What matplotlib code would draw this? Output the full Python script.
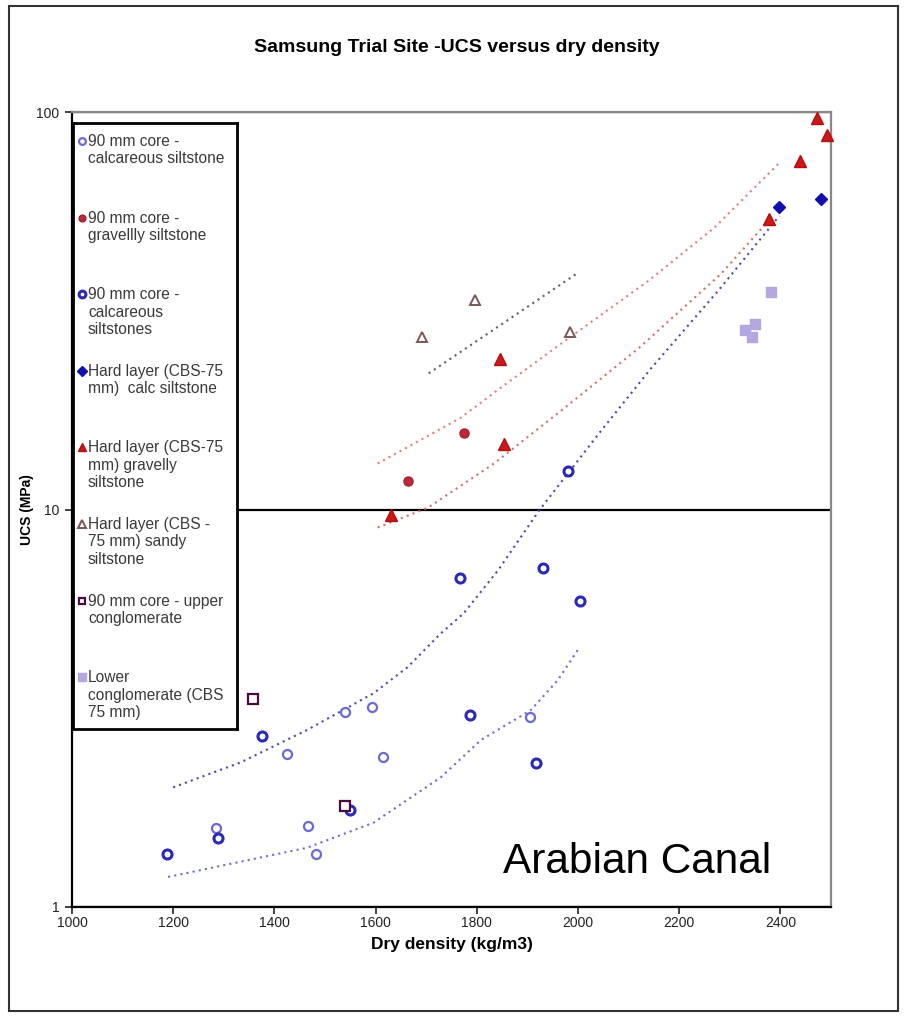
import matplotlib
matplotlib.use('Agg')
import matplotlib.pyplot as plt
from matplotlib.patches import Rectangle
from matplotlib.ticker import FixedLocator, NullLocator

plt.rcParams['font.family'] = ['Liberation Sans', 'DejaVu Sans']

# Measured dry density (kg/m3) and UCS (MPa) per sample group
calc_x = [1285, 1424, 1467, 1483, 1539, 1592, 1614, 1905]
calc_y = [1.58, 2.42, 1.60, 1.36, 3.09, 3.18, 2.38, 3.00]
grav_x = [1665, 1774]
grav_y = [11.8, 15.6]
calcs_x = [1188, 1289, 1376, 1549, 1766, 1786, 1917, 1931, 1980, 2004]
calcs_y = [1.36, 1.49, 2.70, 1.75, 6.71, 3.04, 2.30, 7.11, 12.5, 5.87]
hard_calc_x = [2398, 2481]
hard_calc_y = [57.7, 60.4]
hard_grav_x = [1630, 1846, 1853, 2378, 2438, 2473, 2493]
hard_grav_y = [9.7, 23.9, 14.6, 53.8, 75.3, 96.6, 87.5]
hard_sandy_x = [1691, 1796, 1984]
hard_sandy_y = [27.1, 33.7, 28.0]
upper_cong_x = [1358, 1539]
upper_cong_y = [3.33, 1.79]
lower_cong_x = [2331, 2344, 2350, 2382]
lower_cong_y = [28.3, 27.2, 29.3, 35.3]

# Trend lines (values along each fitted curve)
trend_calc_hi_x = [1200, 1333, 1465, 1596, 1663, 1729, 1774, 1842, 1923, 2046, 2145, 2277, 2398]
trend_calc_hi_y = [2.00, 2.31, 2.79, 3.45, 4.01, 4.88, 5.48, 7.03, 9.94, 15.8, 22.7, 35.5, 54.8]
trend_calc_lo_x = [1190, 1333, 1465, 1596, 1729, 1808, 1907, 1960, 2002]
trend_calc_lo_y = [1.19, 1.30, 1.41, 1.63, 2.12, 2.63, 3.13, 3.72, 4.48]
trend_grav_hi_x = [1604, 1768, 1844, 1966, 2139, 2269, 2398]
trend_grav_hi_y = [13.05, 17.0, 20.1, 26.1, 37.6, 51.1, 74.5]
trend_grav_lo_x = [1604, 1703, 1834, 1966, 2119, 2283, 2382]
trend_grav_lo_y = [9.01, 10.1, 13.05, 17.7, 25.4, 39.2, 54.2]
trend_sandy_x = [1705, 2000]
trend_sandy_y = [22.0, 39.4]

labels = [
    '90 mm core -\ncalcareous siltstone',
    '90 mm core -\ngravellly siltstone',
    '90 mm core -\ncalcareous\nsiltstones',
    'Hard layer (CBS-75\nmm)  calc siltstone',
    'Hard layer (CBS-75\nmm) gravelly\nsiltstone',
    'Hard layer (CBS -\n75 mm) sandy\nsiltstone',
    '90 mm core - upper\nconglomerate',
    'Lower\nconglomerate (CBS\n75 mm)',
]

styles = [
    dict(marker='o', ms=6.5, mfc='white', mec='#6a6ad2', mew=1.6),
    dict(marker='o', ms=6.5, mfc='#c02838', mec='#a02030', mew=1.0),
    dict(marker='o', ms=6.5, mfc='white', mec='#2a2ab4', mew=2.2),
    dict(marker='D', ms=6.5, mfc='#1010b0', mec='#1010b0', mew=1.0),
    dict(marker='^', ms=8.5, mfc='#cc1818', mec='#b01010', mew=1.0),
    dict(marker='^', ms=7.5, mfc='white', mec='#7a5858', mew=1.4),
    dict(marker='s', ms=6.5, mfc='white', mec='#4a0a40', mew=1.6),
    dict(marker='s', ms=7.0, mfc='#b4a6de', mec='#b4a6de', mew=1.0),
]

series = [
    (calc_x, calc_y), (grav_x, grav_y), (calcs_x, calcs_y),
    (hard_calc_x, hard_calc_y), (hard_grav_x, hard_grav_y),
    (hard_sandy_x, hard_sandy_y), (upper_cong_x, upper_cong_y),
    (lower_cong_x, lower_cong_y),
]

W, H = 906, 1017
fig = plt.figure(figsize=(W / 100, H / 100), dpi=100)
ax = fig.add_axes([72 / W, 1 - 907 / H, (831 - 72) / W, (907 - 112) / H])

dot = (0, (1, 2))
ax.plot(trend_calc_hi_x, trend_calc_hi_y, ls=dot, lw=1.5, color='#4a4aa8')
ax.plot(trend_calc_lo_x, trend_calc_lo_y, ls=dot, lw=1.5, color='#6c6cd0')
ax.plot(trend_grav_hi_x, trend_grav_hi_y, ls=dot, lw=1.5, color='#e08080')
ax.plot(trend_grav_lo_x, trend_grav_lo_y, ls=dot, lw=1.5, color='#d07070')
ax.plot(trend_sandy_x, trend_sandy_y, ls=dot, lw=1.5, color='#606060')

for (xs, ys), st in zip(series, styles):
    ax.plot(xs, ys, ls='none', clip_on=False, zorder=3, **st)

ax.set_yscale('log')
ax.set_xlim(1000, 2500)
ax.set_ylim(1, 100)
ax.xaxis.set_major_locator(FixedLocator([1000, 1200, 1400, 1600, 1800, 2000, 2200, 2400]))
ax.yaxis.set_major_locator(FixedLocator([1, 10, 100]))
ax.yaxis.set_minor_locator(NullLocator())
ax.set_yticklabels(['1', '10', '100'])
ax.tick_params(direction='out', length=5, width=1.2, labelsize=10, colors='#222222')
ax.tick_params(axis='x', pad=1.5)
ax.tick_params(axis='y', pad=4)
ax.grid(axis='y', which='major', color='black', lw=1.6)
ax.set_axisbelow(True)

for side in ['left', 'bottom']:
    ax.spines[side].set_color('black')
    ax.spines[side].set_linewidth(1.6)
for side in ['top', 'right']:
    ax.spines[side].set_color('#888888')
    ax.spines[side].set_linewidth(1.6)

ax.set_xlabel('Dry density (kg/m3)', fontsize=12.5, fontweight='bold', labelpad=5)
ax.set_ylabel('UCS (MPa)', fontsize=10, fontweight='bold', labelpad=2)

fig.text(457 / W, 1 - 47 / H, 'Samsung Trial Site -UCS versus dry density',
         ha='center', va='center', fontsize=14, fontweight='bold')

fig.text(503 / W, 1 - 862 / H, 'Arabian Canal', ha='left', va='center',
         fontsize=30.5, color='black')

# Legend box drawn by hand so markers sit on the first text line
lax = fig.add_axes([73 / W, 1 - 729 / H, (237 - 73) / W, (729 - 123) / H])
lax.set_xlim(0, 164)
lax.set_ylim(606, 0)
lax.set_xticks([])
lax.set_yticks([])
for sp in lax.spines.values():
    sp.set_linewidth(2)
    sp.set_color('black')
for i, (lab, st) in enumerate(zip(labels, styles)):
    y0 = 18 + 76.6 * i
    st = dict(st)
    st['ms'] = st['ms'] * 0.75
    lax.plot([9], [y0], ls='none', **st)
    lax.text(15, y0 - 7, lab, ha='left', va='top', fontsize=11.2,
             color='#3a3a3a', linespacing=1.2)

fig.patches.append(Rectangle((9 / W, 1 - 1011 / H), (898 - 9) / W, (1011 - 6) / H,
                             transform=fig.transFigure, fill=False,
                             edgecolor='#333333', lw=1.5))

fig.savefig('out.png', dpi=100)
